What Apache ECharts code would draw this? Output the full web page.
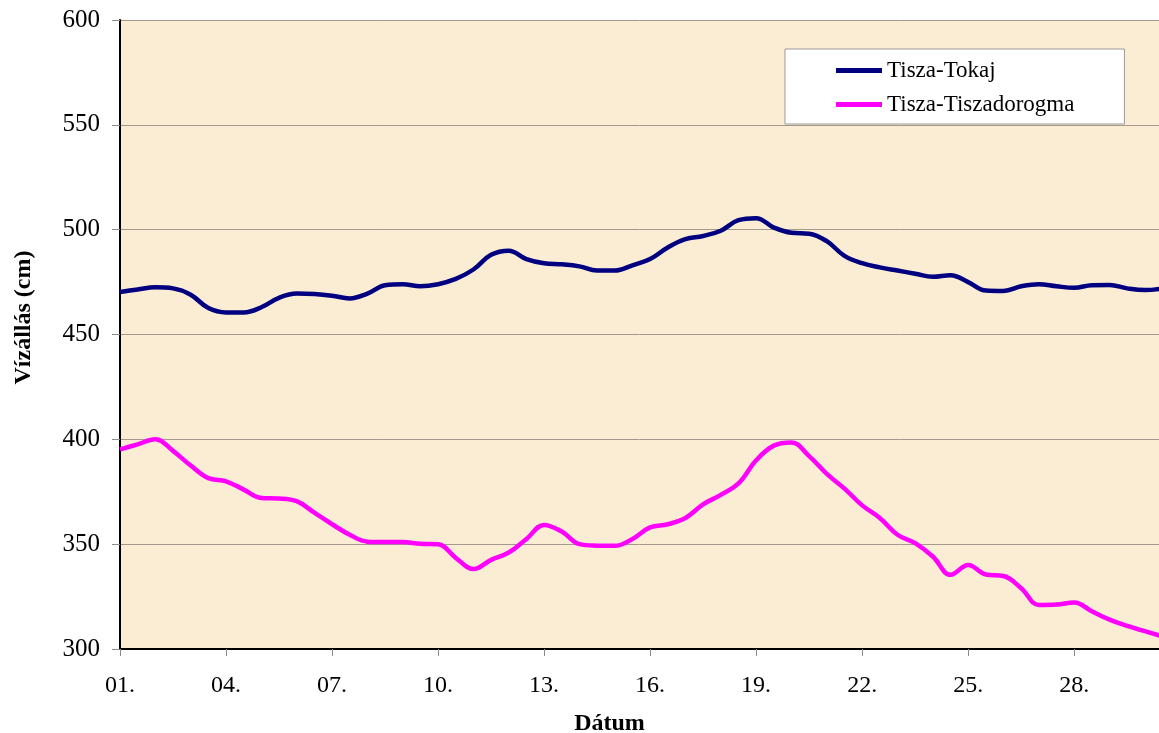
<!DOCTYPE html>
<html>
<head>
<meta charset="utf-8">
<title>Tisza vízállás</title>
<script src="https://cdn.jsdelivr.net/npm/echarts@6/dist/echarts.min.js"></script>
<style>
  html, body { margin: 0; padding: 0; background: #fff; }
  #chart { width: 1159px; height: 733px; }
</style>
</head>
<body>
<div id="chart"></div>
<script>
// --- adatok (félnaponkénti leolvasás) ---
const days = [
  1, 1.5, 2, 2.5, 3, 3.5, 4, 4.5, 5, 5.5,
  6, 6.5, 7, 7.5, 8, 8.5, 9, 9.5, 10, 10.5,
  11, 11.5, 12, 12.5, 13, 13.5, 14, 14.5, 15, 15.5,
  16, 16.5, 17, 17.5, 18, 18.5, 19, 19.5, 20, 20.5,
  21, 21.5, 22, 22.5, 23, 23.5, 24, 24.5, 25, 25.5,
  26, 26.5, 27, 27.5, 28, 28.5, 29, 29.5, 30, 30.5
];

const tokaj = [
  470.3, 471.5, 472.5, 472, 469, 462.6, 460.5, 460.5, 463, 467.5,
  469.5, 469.3, 468.5, 467.2, 469.5, 473.5, 474, 473, 474, 476.5,
  481, 488, 490, 486, 484, 483.5, 482.5, 480.5, 480.5, 483,
  486, 491.5, 495.5, 497, 499.5, 504.5, 505.5, 501, 498.5, 498.1,
  494.5, 487.5, 484, 482, 480.5, 479, 477.5, 478.3, 475, 471,
  470.8, 473, 474, 473, 472.3, 473.5, 473.6, 472, 471.2, 472
];

const tiszadorogma = [
  395.2, 397.6, 400, 394.5, 387.5, 381.5, 380, 376, 372, 371.8,
  370.5, 365, 359.5, 354.5, 351.2, 351, 351, 350.2, 350, 343.5,
  338.1, 342.5, 346, 352.5, 359.2, 356, 350, 349.3, 349.2, 352.5,
  358, 359.5, 362.5, 369, 373.5, 379, 390, 397, 398.5, 392,
  383.5, 376.5, 368.5, 362.5, 354.5, 350.5, 344.1, 335.4, 340.1, 335.5,
  334.8, 329, 321, 321.2, 322.2, 318, 314, 311, 308.5, 306
];

const seriesNames = ['Tisza-Tokaj', 'Tisza-Tiszadorogma'];
const yMin = 300, yMax = 600, yStep = 50;
const xMin = 1, xMax = 30.4, xStep = 3;

const FONT = '"Liberation Serif", "Times New Roman", serif';

const pairs = (vals) => vals.map((v, i) => [days[i], v]);

const chart = echarts.init(document.getElementById('chart'));

const option = {
  backgroundColor: '#ffffff',
  animation: false,
  grid: {
    left: 120,
    top: 20,
    right: 0,
    bottom: 84,
    outerBoundsMode: 'none',
    containLabel: false,
    show: true,
    backgroundColor: '#fbedd4',
    borderWidth: 0
  },
  legend: {
    orient: 'vertical',
    left: 785,
    top: 49,
    icon: 'rect',
    itemWidth: 46,
    itemHeight: 5,
    itemGap: 11,
    padding: [10, 50, 8, 51],
    backgroundColor: '#ffffff',
    borderColor: '#9a9a9a',
    borderWidth: 1,
    textStyle: { fontFamily: FONT, fontSize: 23, color: '#000' },
    data: seriesNames
  },
  xAxis: {
    type: 'value',
    min: xMin,
    max: xMax,
    interval: xStep,
    name: 'Dátum',
    nameLocation: 'middle',
    nameGap: 63,
    nameTextStyle: {
      fontFamily: FONT, fontSize: 24, fontWeight: 'bold', color: '#000',
      padding: [0, 60, 0, 0]
    },
    axisLine: { lineStyle: { color: '#000', width: 2 } },
    axisTick: { length: 7, lineStyle: { color: '#8c8c8c' } },
    axisLabel: {
      fontFamily: FONT, fontSize: 24, color: '#000', margin: 25,
      showMaxLabel: false,
      formatter: (v) => Number.isInteger(v) ? String(v).padStart(2, '0') + '.' : ''
    },
    splitLine: { show: false }
  },
  yAxis: {
    type: 'value',
    min: yMin,
    max: yMax,
    interval: yStep,
    name: 'Vízállás (cm)',
    nameLocation: 'middle',
    nameGap: 84,
    nameTextStyle: {
      fontFamily: FONT, fontSize: 24, fontWeight: 'bold', color: '#000',
      padding: [0, 0, 0, 34]
    },
    axisLine: { show: true, lineStyle: { color: '#000', width: 2 } },
    axisTick: { show: true, length: 8, lineStyle: { color: '#8c8c8c' } },
    axisLabel: { fontFamily: FONT, fontSize: 25, color: '#000', margin: 20 },
    splitLine: { lineStyle: { color: '#a39a8c', width: 1 } }
  },
  series: [
    {
      name: seriesNames[0],
      type: 'line',
      data: pairs(tokaj),
      smooth: 0.4,
      showSymbol: false,
      color: '#000080',
      lineStyle: { width: 4.5, color: '#000080' }
    },
    {
      name: seriesNames[1],
      type: 'line',
      data: pairs(tiszadorogma),
      smooth: 0.4,
      showSymbol: false,
      color: '#ff00ff',
      lineStyle: { width: 4.5, color: '#ff00ff' }
    }
  ]
};

chart.setOption(option);
</script>
</body>
</html>
